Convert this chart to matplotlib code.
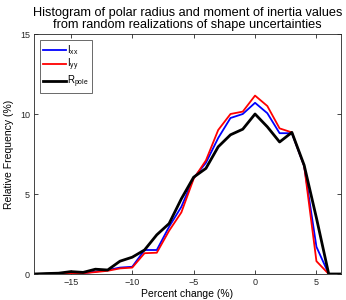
import matplotlib
matplotlib.use("Agg")
import matplotlib.pyplot as plt

plt.rcParams['font.family'] = ['Liberation Sans', 'DejaVu Sans']
plt.rcParams['mathtext.fontset'] = 'custom'
plt.rcParams['mathtext.rm'] = 'Liberation Sans'
plt.rcParams['mathtext.it'] = 'Liberation Sans'

pct_change = [-18, -17, -16, -15, -14, -13, -12, -11, -10, -9, -8, -7, -6, -5, -4, -3, -2, -1, 0, 1, 2, 3, 4, 5, 6, 7]
ixx = [0, 0, 0.02, 0.05, 0.05, 0.15, 0.25, 0.4, 0.45, 1.5, 1.5, 2.95, 4.2, 6.0, 6.95, 8.5, 9.75, 10.0, 10.7, 10.05, 8.8, 8.8, 6.75, 1.7, 0, 0]
iyy = [0, 0, 0, 0.03, 0.05, 0.12, 0.2, 0.35, 0.4, 1.3, 1.33, 2.7, 3.85, 5.95, 7.1, 9.0, 10.0, 10.15, 11.15, 10.5, 9.1, 8.85, 6.75, 0.8, 0, 0]
rpole = [0, 0.03, 0.05, 0.15, 0.1, 0.3, 0.25, 0.8, 1.05, 1.5, 2.45, 3.15, 4.7, 6.05, 6.6, 7.95, 8.7, 9.05, 10.0, 9.2, 8.25, 8.85, 6.8, 3.5, 0, 0]

labels = [r'I$_{\mathregular{xx}}$', r'I$_{\mathregular{yy}}$', r'R$_{\mathregular{pole}}$']

fig = plt.figure(figsize=(3.46, 3.0), dpi=100)
ax = fig.add_axes([34/346, 26/300, 307/346, 240/300])

ax.plot(pct_change, ixx, color='#0000ff', lw=1.3, label=labels[0])
ax.plot(pct_change, iyy, color='#ff0000', lw=1.3, label=labels[1])
ax.plot(pct_change, rpole, color='black', lw=2.0, label=labels[2])

ax.set_xlim(-18, 7)
ax.set_ylim(0, 15)
ax.set_xticks([-15, -10, -5, 0, 5])
ax.set_yticks([0, 5, 10, 15])
ax.tick_params(direction='in', length=3, labelsize=6.5, width=0.6, colors='#262626',
               top=True, right=True, pad=3)
for s in ax.spines.values():
    s.set_linewidth(0.6)
    s.set_color('#262626')

ax.set_xlabel('Percent change (%)', fontsize=7.5, labelpad=1)
ax.set_ylabel('Relative Frequency (%)', fontsize=7.5, labelpad=4)
ax.set_title('Histogram of polar radius and moment of inertia values\nfrom random realizations of shape uncertainties',
             fontsize=9.2, pad=4, linespacing=1.05)

leg = ax.legend(loc='upper left', fontsize=7, frameon=True, fancybox=False,
                edgecolor='#262626', handlelength=2.3, handletextpad=0.1,
                borderpad=0.35, labelspacing=0.0, borderaxespad=0.6)
leg.get_frame().set_linewidth(0.6)

fig.savefig('out.png', dpi=100)
